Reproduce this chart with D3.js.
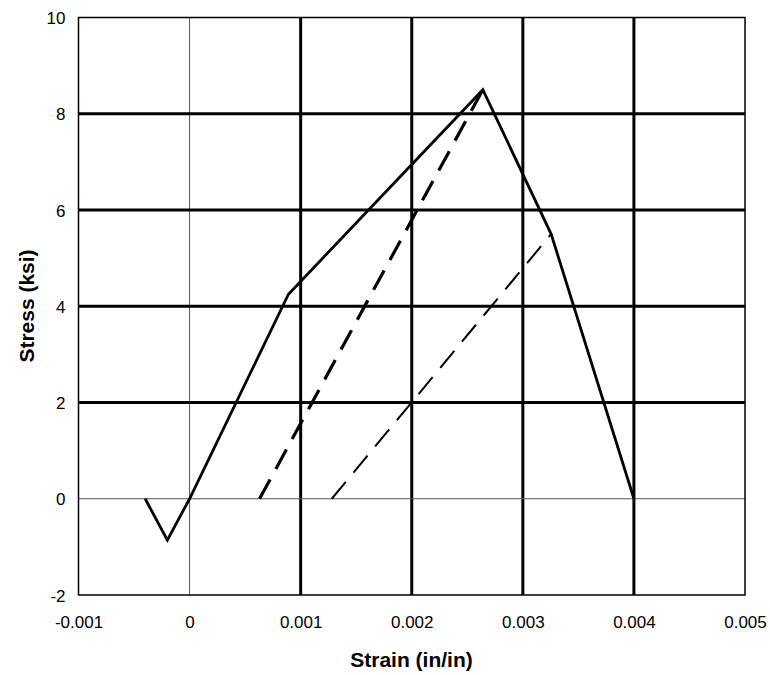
<!DOCTYPE html>
<html><head><meta charset="utf-8">
<script src="https://cdn.jsdelivr.net/npm/d3@7"></script>
<style>body{margin:0;background:#fff}text{font-family:"Liberation Sans",Arial,sans-serif}</style>
</head><body>
<script>
const xTicks = [-0.001, 0, 0.001, 0.002, 0.003, 0.004, 0.005];
const yTicks = [-2, 0, 2, 4, 6, 8, 10];
const xTickLabels = ["-0.001", "0", "0.001", "0.002", "0.003", "0.004", "0.005"];
const yTickLabels = ["-2", "0", "2", "4", "6", "8", "10"];
const envelopeStrain = [-0.0004, -0.0002, 0, 0.00089, 0.00264, 0.003255, 0.004];
const envelopeStress = [0, -0.86, 0, 4.25, 8.5, 5.5, 0];
const unload1Strain = [0.00063, 0.00264];
const unload1Stress = [0, 8.5];
const unload2Strain = [0.00128, 0.003255];
const unload2Stress = [0, 5.5];

const W = 770, H = 675;
const L = 78.5, R = 745, T = 17.5, B = 595;
const svg = d3.select("body").append("svg").attr("width", W).attr("height", H);
const x = d3.scaleLinear().domain([-0.001, 0.005]).range([L, R]);
const y = d3.scaleLinear().domain([-2, 10]).range([B, T]);

// gridlines
const g = svg.append("g");
xTicks.filter(v => v > -0.001 && v < 0.005).forEach(v => {
  g.append("line").attr("x1", x(v)).attr("x2", x(v)).attr("y1", T).attr("y2", B)
    .attr("stroke", v === 0 ? "#555" : "#000").attr("stroke-width", v === 0 ? 1 : 3);
});
yTicks.filter(v => v > -2 && v < 10).forEach(v => {
  g.append("line").attr("x1", L).attr("x2", R).attr("y1", y(v)).attr("y2", y(v))
    .attr("stroke", v === 0 ? "#555" : "#000").attr("stroke-width", v === 0 ? 1 : 3);
});
svg.append("rect").attr("x", L).attr("y", T).attr("width", R - L).attr("height", B - T)
  .attr("fill", "none").attr("stroke", "#000").attr("stroke-width", 1.5);

// axes
const xAxis = d3.axisBottom(x).tickValues(xTicks).tickSize(0).tickPadding(0)
  .tickFormat((d, i) => xTickLabels[i]);
const xa = svg.append("g").attr("transform", `translate(0,${B})`).call(xAxis);
xa.select(".domain").remove();
xa.selectAll("text").style("font-size", "17px").attr("fill", "#000").attr("dy", null).attr("y", 33);

const yAxis = d3.axisLeft(y).tickValues(yTicks).tickSize(0).tickPadding(0)
  .tickFormat((d, i) => yTickLabels[i]);
const ya = svg.append("g").attr("transform", `translate(${L},0)`).call(yAxis);
ya.select(".domain").remove();
ya.selectAll("text").style("font-size", "17px").attr("fill", "#000").attr("x", -13).attr("dy", "0.36em");

// series
const line = d3.line().x(d => x(d[0])).y(d => y(d[1]));
const zip = (a, b) => a.map((v, i) => [v, b[i]]);
svg.append("path").datum(zip(envelopeStrain, envelopeStress)).attr("d", line)
  .attr("fill", "none").attr("stroke", "#000").attr("stroke-width", 2.8).attr("stroke-linejoin", "miter");
svg.append("path").datum(zip(unload1Strain, unload1Stress)).attr("d", line)
  .attr("fill", "none").attr("stroke", "#000").attr("stroke-width", 3.2).attr("stroke-dasharray", "22,12");
svg.append("path").datum(zip(unload2Strain, unload2Stress)).attr("d", line)
  .attr("fill", "none").attr("stroke", "#000").attr("stroke-width", 2).attr("stroke-dasharray", "22,12");

// titles
svg.append("text").attr("x", 411.5).attr("y", 667).attr("text-anchor", "middle")
  .style("font-size", "21px").attr("font-weight", "bold").text("Strain (in/in)");
svg.append("text").attr("transform", `translate(34,306) rotate(-90)`).attr("text-anchor", "middle")
  .style("font-size", "21px").attr("font-weight", "bold").text("Stress (ksi)");
</script>
</body></html>
